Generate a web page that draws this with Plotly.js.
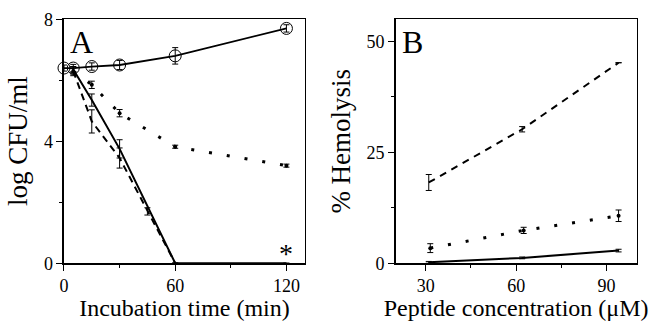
<!DOCTYPE html>
<html><head><meta charset="utf-8">
<script src="https://cdn.plot.ly/plotly-3.0.1.min.js"></script>
<style>html,body{margin:0;padding:0;background:#fff}#c{width:655px;height:321px}</style>
</head><body><div id="c"></div>
<script>
// Panel A: incubation time (min) vs log CFU/ml
const aCtrlX = [0, 5, 15, 30, 60, 120];
const aCtrlY = [6.4, 6.4, 6.45, 6.5, 6.8, 7.7];
const aCtrlErr = [0.1, 0.12, 0.12, 0.15, 0.27, 0.12];
const aDotX = [5, 15, 30, 60, 120];
const aDotY = [6.3, 5.85, 4.92, 3.82, 3.2];
const aDotErr = [0.1, 0.12, 0.12, 0.05, 0.05];
const aSolidX = [5, 15, 30, 60, 120];
const aSolidY = [6.35, 5.35, 3.75, 0, 0];
const aSolidErr = [0.1, 0.2, 0.3, 0, 0];
const aDashX = [5, 15, 30, 45, 60];
const aDashY = [6.3, 4.65, 3.45, 1.7, 0];
const aDashErr = [0.15, 0.38, 0.33, 0.12, 0];
// Panel B: peptide concentration (uM) vs % hemolysis
const bDashX = [31, 62, 94];
const bDashY = [18.2, 30.2, 45.2];
const bDashErr = [1.8, 0.6, 0];
const bDotX = [31.5, 62.5, 94];
const bDotY = [3.4, 7.4, 10.7];
const bDotErr = [1.0, 0.7, 1.3];
const bSolidX = [31, 62, 94];
const bSolidY = [0.2, 1.2, 2.85];
const bSolidErr = [0.2, 0.2, 0.3];

const K = '#000000';
function err(a){return {type:'data', array:a, visible:true, color:K, thickness:1, width:3};}
const traces = [
  {x:aDashX, y:aDashY, error_y:err(aDashErr), mode:'lines', line:{color:K, width:2, dash:'7px,5px'}, xaxis:'x', yaxis:'y'},
  {x:aSolidX, y:aSolidY, error_y:err(aSolidErr), mode:'lines', line:{color:K, width:2}, xaxis:'x', yaxis:'y'},
  {x:aDotX, y:aDotY, error_y:err(aDotErr), mode:'lines+markers', marker:{color:K, size:4}, line:{color:K, width:3, dash:'3px,15px'}, xaxis:'x', yaxis:'y'},
  {x:aCtrlX, y:aCtrlY, error_y:err(aCtrlErr), mode:'lines+markers', marker:{symbol:'circle-open', size:12, color:K, line:{width:1, color:K}}, line:{color:K, width:1.8}, xaxis:'x', yaxis:'y', cliponaxis:false},
  {x:bDashX, y:bDashY, error_y:err(bDashErr), mode:'lines', line:{color:K, width:2, dash:'7px,6px'}, xaxis:'x2', yaxis:'y2'},
  {x:bDotX, y:bDotY, error_y:err(bDotErr), mode:'lines+markers', marker:{color:K, size:4}, line:{color:K, width:3, dash:'3px,15px'}, xaxis:'x2', yaxis:'y2'},
  {x:bSolidX, y:bSolidY, error_y:err(bSolidErr), mode:'lines', line:{color:K, width:2}, xaxis:'x2', yaxis:'y2'}
];
const F = 'Liberation Serif, Times New Roman, serif';
function ax(o){return Object.assign({showgrid:false, zeroline:false, showline:true, mirror:true, linecolor:K, linewidth:1.5,
  ticks:'outside', ticklen:6, tickwidth:1, tickcolor:K, tickfont:{family:F, size:18, color:K}, fixedrange:true}, o);}
const layout = {
  width:655, height:321, margin:{l:0, r:0, t:0, b:0}, showlegend:false,
  paper_bgcolor:'#fff', plot_bgcolor:'#fff',
  xaxis: ax({domain:[0.0977, 0.4656], range:[0,130], tickvals:[0,60,120], minor:{tickvals:[30,90], ticks:'outside', ticklen:3, tickcolor:K},
    title:{text:'Incubation time (min)', font:{family:F, size:24, color:K}, standoff:6}, anchor:'y'}),
  yaxis: ax({domain:[0.18, 0.94], range:[0,8], tickvals:[0,4,8], minor:{tickvals:[2,6], ticks:'outside', ticklen:3, tickcolor:K},
    title:{text:'log CFU/ml', font:{family:F, size:27, color:K}, standoff:8}, anchor:'x'}),
  xaxis2: ax({domain:[0.604, 0.972], range:[20,100], tickvals:[30,60,90], minor:{tickvals:[45,75], ticks:'outside', ticklen:3, tickcolor:K},
    title:{text:'Peptide concentration (μM)', font:{family:F, size:24, color:K}, standoff:6}, anchor:'y2'}),
  yaxis2: ax({domain:[0.18, 0.94], range:[0,55], tickvals:[0,25,50], minor:{tickvals:[12.5,37.5], ticks:'outside', ticklen:3, tickcolor:K},
    title:{text:'% Hemolysis', font:{family:F, size:27, color:K}, standoff:8}, anchor:'x2'}),
  annotations:[
    {text:'A', xref:'x domain', yref:'y domain', x:0.015, y:0.99, xanchor:'left', yanchor:'top', showarrow:false, font:{family:F, size:32, color:K}},
    {text:'B', xref:'x2 domain', yref:'y2 domain', x:0.02, y:0.99, xanchor:'left', yanchor:'top', showarrow:false, font:{family:F, size:32, color:K}},
    {text:'*', xref:'x', yref:'y', x:120, y:0, yanchor:'bottom', yshift:-8, showarrow:false, font:{family:F, size:28, color:K}}
  ]
};
Plotly.newPlot('c', traces, layout, {staticPlot:true, displayModeBar:false});
</script></body></html>
